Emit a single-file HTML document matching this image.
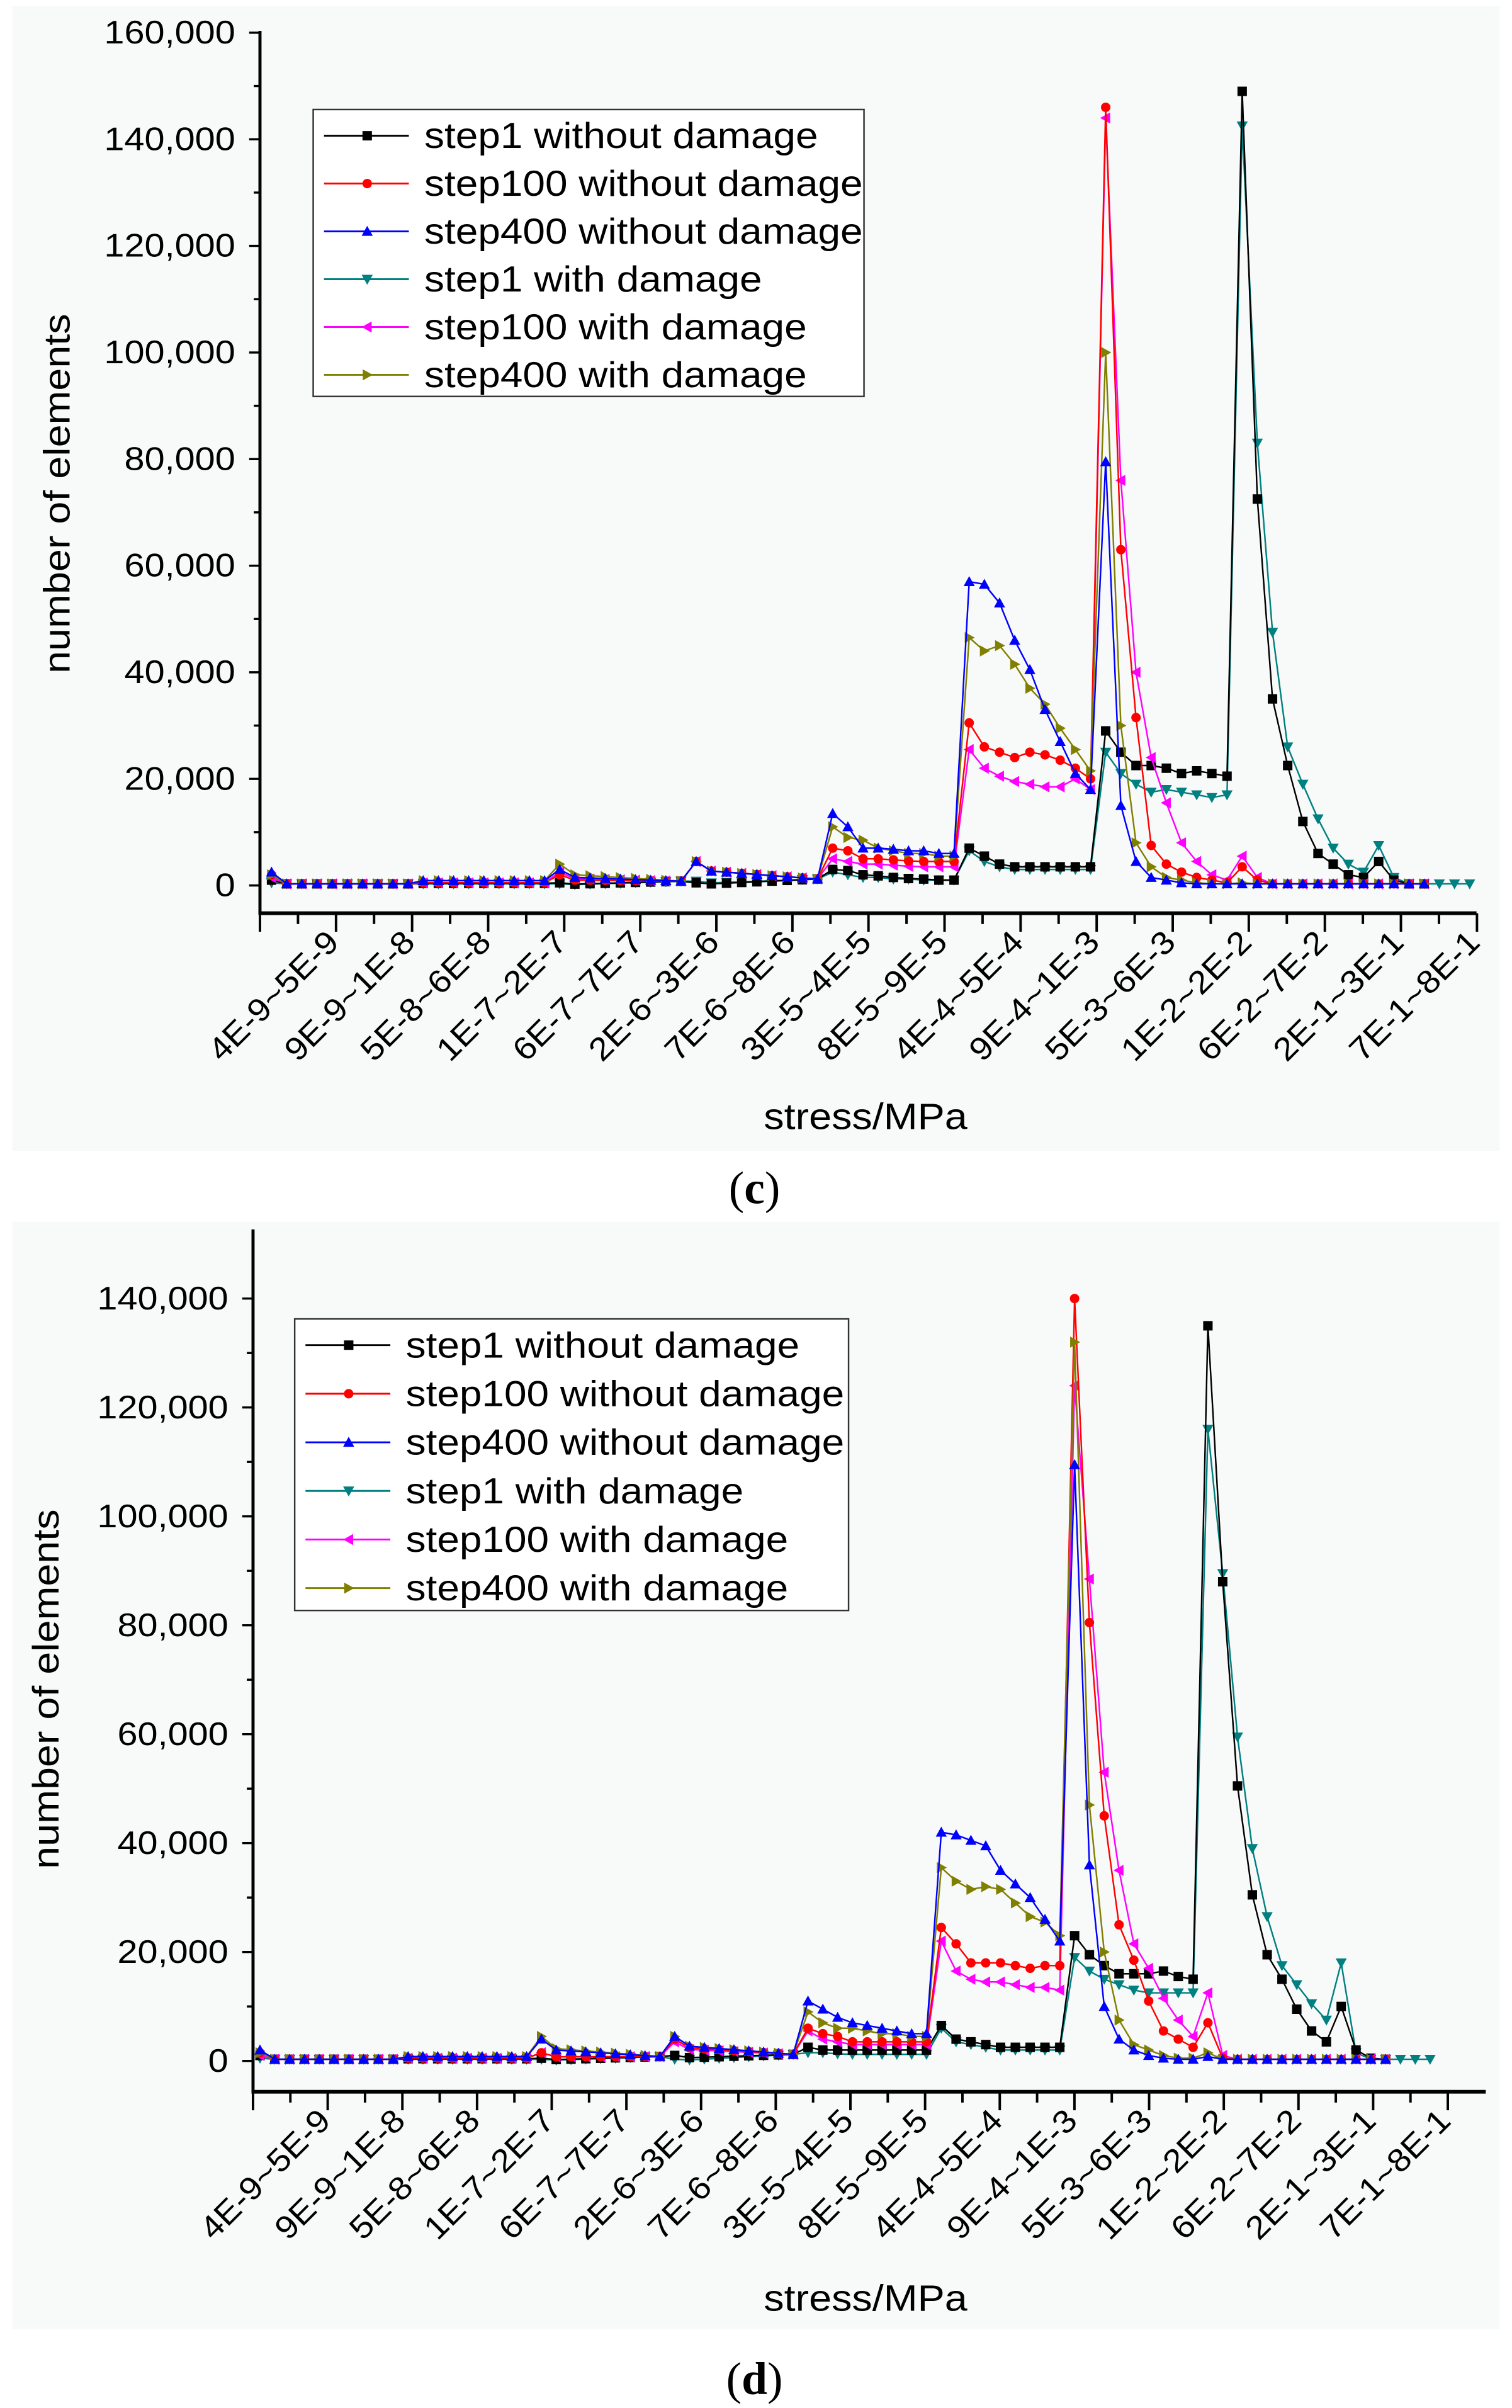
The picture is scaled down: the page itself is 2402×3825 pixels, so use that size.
<!DOCTYPE html>
<html><head><meta charset="utf-8"><style>
html,body{margin:0;padding:0;background:#fff;}
svg{display:block;}
text{font-family:"Liberation Sans",sans-serif;}
</style></head><body>
<svg id="s" xmlns="http://www.w3.org/2000/svg" width="2402" height="3825" viewBox="0 0 980 1561" preserveAspectRatio="none">
<rect x="0" y="0" width="980" height="1561" fill="#fff"/>
<rect x="8" y="4" width="964" height="742" fill="#f8f9f9"/>
<rect x="8" y="792" width="964" height="718" fill="#f8f9f9"/>
<text x="489" y="780" font-size="30" text-anchor="middle" style="font-family:'Liberation Serif',serif">(<tspan font-weight="bold">c</tspan>)</text>
<text x="489" y="1552" font-size="30" text-anchor="middle" style="font-family:'Liberation Serif',serif">(<tspan font-weight="bold">d</tspan>)</text>
</svg>
<script>
(function(){
var NS="http://www.w3.org/2000/svg",S=document.getElementById("s");
function el(n,a,t){var e=document.createElementNS(NS,n);for(var k in a)e.setAttribute(k,a[k]);if(t!=null)e.textContent=t;S.appendChild(e);return e;}
function stretch(e,f){try{var w=e.getComputedTextLength();if(w>0){e.setAttribute("textLength",(w*f).toFixed(1));e.setAttribute("lengthAdjust","spacingAndGlyphs");}}catch(x){}}
var cols=["#000000","#ff0000","#0000ff","#008080","#ff00ff","#808000"];
var names=["step1 without damage","step100 without damage","step400 without damage","step1 with damage","step100 with damage","step400 with damage"];
function marker(k,x,y){var r=3.6,c=cols[k],p;
 if(k==0){el("rect",{x:x-r*0.85,y:y-r*0.85,width:r*1.7,height:r*1.7,fill:c});return;}
 if(k==1){el("circle",{cx:x,cy:y,r:r*0.85,fill:c});return;}
 if(k==2)p=[[x,y-r],[x-r,y+r*0.8],[x+r,y+r*0.8]];
 if(k==3)p=[[x,y+r],[x-r,y-r*0.8],[x+r,y-r*0.8]];
 if(k==4)p=[[x-r,y],[x+r*0.8,y-r],[x+r*0.8,y+r]];
 if(k==5)p=[[x+r,y],[x-r*0.8,y-r],[x-r*0.8,y+r]];
 el("polygon",{points:p.map(function(q){return q.join(",")}).join(" "),fill:c});}
function low(first,p19,p28,mid){var a=[first];for(var i=1;i<=18;i++)a.push(i<10?0.3:mid);a.push(p19);
 for(var i=20;i<=27;i++)a.push(p19*0.5+(0.8-p19*0.5)*(i-20)/7);a.push(p28);
 for(var i=29;i<=36;i++)a.push(p28*0.6+(1.2-p28*0.6)*(i-29)/7);return a;}
function z(n){var a=[];for(var i=0;i<n;i++)a.push(0.3);return a;}
var C=[
 low(1,.5,.5,.4).concat([3,2.8,2,1.8,1.5,1.3,1.2,1,1,7,5.5,4,3.5,3.5,3.5,3.5,3.5,3.5,29,25,22.5,22.5,22,21,21.5,21,20.5,149,72.5,35,22.5,12,6,4,2,1.5,4.5,1,.3,.3]),
 low(2,2,4.5,.5).concat([7,6.5,5,5,4.8,4.6,4.5,4.5,4.5,30.5,26,25,24,25,24.5,23.5,22,20,146,63,31.5,7.5,4,2.5,1.5,1,.5,3.5,1],z(11)),
 low(2.5,3,4.5,.9).concat([13.5,11,7,7,6.8,6.5,6.5,6,6,57,56.5,53,46,40.5,33,27,21,18,79.5,15,4.5,1.5,1,.5,.3,.3,.3],z(13)),
 low(.5,.3,.8,.3).concat([2.5,2,1.5,1.5,1.2,1.2,1,1,1,6.5,4.5,3.5,3,3,3,3,3,3,25,21,19,17.5,18,17.5,17,16.5,17,142.5,83,47.5,26,19,12.5,7,4,2.5,7.5,1.5,.3,.3,.3,.3,.3]),
 low(1.5,2.5,4.5,.5).concat([5,4.5,4,4,3.8,3.6,3.5,3.5,3.5,25.5,22,20.5,19.5,19,18.5,18.5,20,18,144,76,40,24,15.5,8,4.5,2,1,5.5,1.5],z(11)),
 low(2,4,4.5,.9).concat([11,9,8.5,7,6.5,6,6,5.5,5.5,46.5,44,45,41.5,37,34,29.5,25.5,21.5,100,30,8,3.5,1.5,1,.5,.3,.3,.5],z(12))];
var D=[
 low(1,.5,1,.4).concat([2.5,2,2,2,2,2,2,2,2,6.5,4,3.5,3,2.5,2.5,2.5,2.5,2.5,23,19.5,17.5,16,16,16,16.5,15.5,15,135,88,50.5,30.5,19.5,15,9.5,5.5,3.5,10,2,.5,.3]),
 low(1.5,1.5,4,.5).concat([6,5,4.5,3.5,3.5,3.5,3.5,3.5,3.5,24.5,21.5,18,18,18,17.5,17,17.5,17.5,140,80.5,45,25,18.5,11,5.5,4,2.5,7,.5],z(11)),
 low(2,4,4.5,.8).concat([11,9.5,8,7,6.5,6,5.5,5,5,42,41.5,40.5,39.5,35,32.5,30,26,22,109.5,36,10,4,2,1,.5,.3,.3,.8],z(12)),
 low(.5,.3,.3,.3).concat([1.5,1.5,1.3,1.2,1.2,1.2,1.2,1.2,1.2,6,3.5,3,2.5,2,2,2,2,2,19,16.5,15,14,13,12.5,12.5,12.5,12.5,116,89.5,59.5,39,26.5,17.5,14,10.5,7.5,18,1.5,.3,.3,.3,.3,.3]),
 low(1,1.5,3.5,.5).concat([5.5,4,3.5,3,3,3,3,3,3,22,16.5,15,14.5,14.5,14,13.5,13.5,13,124,88.5,53,35,21.5,17,11.5,7.5,4.5,12.5,1],z(11)),
 low(1.5,4.5,4.5,.8).concat([9,7,6,6,5.5,5,5,4.5,4.5,35.5,33,31.5,32,31.5,29,26.5,25.5,23,132,47,20,7.5,3,2,1,.5,.5,1.5],z(12))];
var labs=["4E-9~5E-9","9E-9~1E-8","5E-8~6E-8","1E-7~2E-7","6E-7~7E-7","2E-6~3E-6","7E-6~8E-6","3E-5~4E-5","8E-5~9E-5","4E-4~5E-4","9E-4~1E-3","5E-3~6E-3","1E-2~2E-2","6E-2~7E-2","2E-1~3E-1","7E-1~8E-1"];
function chart(o){
 var ax=o.ax,y0=o.y0,u=o.u,top=o.top,xb=o.xb,xr=o.xr,maj=o.maj;
 el("line",{x1:ax,y1:top,x2:ax,y2:xb,stroke:"#000","stroke-width":2});
 el("line",{x1:ax-1,y1:xb,x2:xr,y2:xb,stroke:"#000","stroke-width":2.4});
 for(var v=0;v<=o.ymax;v+=10){var y=y0-v/20*u,m=(v%20==0);
  if(y<top-1)continue;
  el("line",{x1:ax-(m?7:4),y1:y,x2:ax,y2:y,stroke:"#000","stroke-width":1.4});
  if(m){var t=el("text",{x:ax-16,y:y+7,"font-size":21,"text-anchor":"end"},(v==0?"0":v+",000"));stretch(t,1.12);}}
 for(var k=0;k<=32;k++){var x=ax+maj*k/2;if(x>xr+1)break;
  el("line",{x1:x,y1:xb,x2:x,y2:xb+(k%2==0?12:7),stroke:"#000","stroke-width":1.6});}
 for(var k=1;k<=16;k++){var x=ax+maj*k+3,y=xb+20;
  var t=el("text",{x:x,y:y,"font-size":21,"text-anchor":"end",transform:"rotate(-45 "+x+" "+y+")"},labs[k-1]);stretch(t,1.08);}
 var t=el("text",{x:561,y:o.xt,"font-size":24,"text-anchor":"middle"},"stress/MPa");stretch(t,1.1);
 t=el("text",{x:o.yx,y:o.yy,"font-size":24,"text-anchor":"middle",transform:"rotate(-90 "+o.yx+" "+o.yy+")"},"number of elements");stretch(t,1.1);
 var order=[3,0,4,1,5,2];
 order.forEach(function(k){var d=o.data[k],pts=[];
  for(var i=0;i<d.length;i++)pts.push((o.x0+o.dx*i).toFixed(2)+","+(y0-d[i]/20*u).toFixed(2));
  el("polyline",{points:pts.join(" "),fill:"none",stroke:cols[k],"stroke-width":1});
  for(var i=0;i<d.length;i++)marker(k,o.x0+o.dx*i,y0-d[i]/20*u);});
 var L=o.leg;
 el("rect",{x:L.x,y:L.y,width:L.w,height:L.h,fill:"#fff",stroke:"#333","stroke-width":1});
 for(var k=0;k<6;k++){var y=L.y+17+k*L.s;
  el("line",{x1:L.x+7,y1:y,x2:L.x+62,y2:y,stroke:cols[k],"stroke-width":1.2});marker(k,L.x+35,y);
  var t=el("text",{x:L.x+72,y:y+8,"font-size":23.5},names[k]);stretch(t,1.11);}
}
chart({ax:168.5,y0:574,u:69.1,top:20,xb:592,xr:957,maj:49.3,ymax:160,x0:176,dx:9.83,data:C,xt:732,yx:45,yy:320,
 leg:{x:203,y:71,w:357,h:186,s:31}});
chart({ax:164,y0:1336,u:70.6,top:797,xb:1356,xr:963,maj:48.4,ymax:140,x0:168.5,dx:9.6,data:D,xt:1498,yx:38,yy:1095,
 leg:{x:191,y:855,w:359,h:189,s:31.5}});
})();
</script>
</body></html>
